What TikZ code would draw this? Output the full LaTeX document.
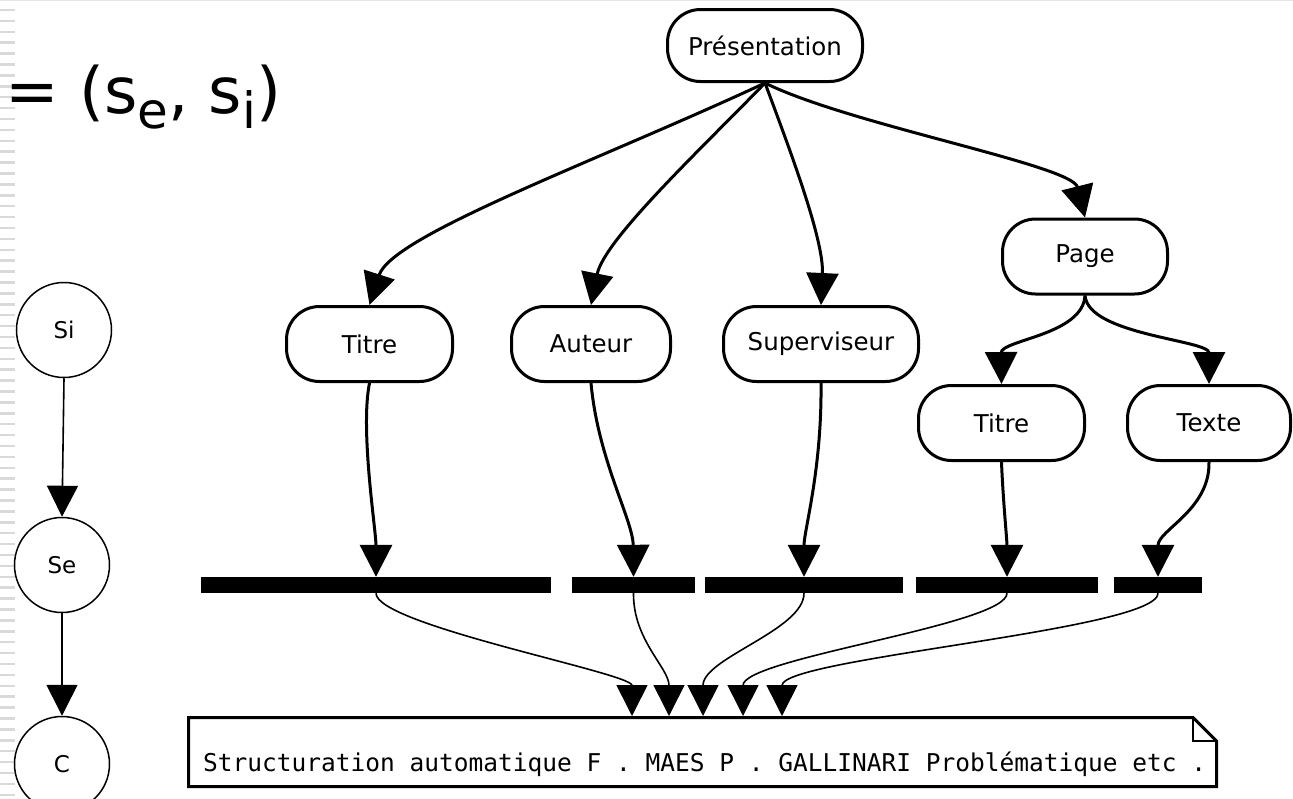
\documentclass[tikz,border=0pt]{standalone}
\usepackage{fontspec}
\setmainfont{DejaVu Sans}
\setmonofont{DejaVu Sans Mono}
\usetikzlibrary{arrows.meta,shapes.geometric}

\begin{document}
\begin{tikzpicture}[x=1pt,y=-1pt,
  elem/.style={draw, line width=3pt, rounded corners=33pt, minimum height=75pt,
               inner sep=0pt, font=\fontsize{24.5}{29}\selectfont},
  tree/.style={line width=3pt, -{Triangle[length=32pt,width=32pt]}},
  flow/.style={line width=1.6pt, -{Triangle[length=31pt,width=31pt]}},
  seg/.style={fill=black, draw=none, inner sep=0pt, minimum height=16pt},
  state/.style={draw, circle, line width=1.5pt, minimum size=95pt,
                inner sep=0pt, font=\fontsize{23}{27}\selectfont},
  stripe/.style={draw=black!15, line width=2.5pt},
]
\useasboundingbox (0,0) rectangle (1293,798);

% slide frame decoration
\draw[draw=black!10, line width=1pt] (0,0.5) -- (1293,0.5);
\foreach \k in {0,...,72} \draw[stripe] (0,{10+10.9*\k}) -- (15,{10+10.9*\k});

% formula
\node[anchor=base west, inner sep=0pt, font=\fontsize{64}{70}\selectfont] (eq) at (5,113)
  {= (s\raisebox{-15pt}{\fontsize{50}{54}\selectfont e}, s\raisebox{-15pt}{\fontsize{50}{54}\selectfont i})};

% state chain
\node[state] (si) at (64,330) {Si};
\node[state] (se) at (62,565) {Se};
\node[state] (c)  at (62,764) {C};
\draw[flow] (si.south) -- (se.north);
\draw[flow] (se.south) -- (c.north);

% document tree
\node[elem, minimum width=195pt, minimum height=72pt] (pres) at (765,45.5) {Présentation};
\node[elem, minimum width=165pt] (page)   at (1085,256.5) {Page};
\node[elem, minimum width=166pt] (titreL) at (369.5,344) {Titre};
\node[elem, minimum width=159pt] (auteur) at (591,344) {Auteur};
\node[elem, minimum width=195pt] (sup)    at (821,344) {Superviseur};
\node[elem, minimum width=166pt] (titreR) at (1001.5,423) {Titre};
\node[elem, minimum width=163pt] (texte)  at (1209,423) {Texte};

\draw[tree] (pres.south) .. controls (600,160) and (392,235) .. (titreL.north);
\draw[tree] (pres.south) .. controls (700,150) and (604,240) .. (auteur.north);
\draw[tree] (pres.south) .. controls (790,150) and (824,240) .. (sup.north);
\draw[tree] (pres.south) .. controls (850,125) and (1072,165) .. (page.north);
\draw[tree] (page.south) .. controls (1083,335) and (1001,340) .. (titreR.north);
\draw[tree] (page.south) .. controls (1088,335) and (1209,340) .. (texte.north);

% text segments
\node[seg, minimum width=350pt] (bar1) at (376,585) {};
\node[seg, minimum width=123pt] (bar2) at (633.5,585) {};
\node[seg, minimum width=198pt] (bar3) at (804,585) {};
\node[seg, minimum width=182pt] (bar4) at (1007,585) {};
\node[seg, minimum width=88pt]  (bar5) at (1158,585) {};

\draw[tree] (titreL.south) .. controls (360,430) and (376,530) .. (bar1.north);
\draw[tree] (auteur.south) .. controls (598,460) and (633,520) .. (bar2.north);
\draw[tree] (sup.south)    .. controls (822,470) and (804,530) .. (bar3.north);
\draw[tree] (titreR.south) .. controls (1003,500) and (1007,540) .. (bar4.north);
\draw[tree] (texte.south)  .. controls (1210,510) and (1158,530) .. (bar5.north);

% document text
\draw[line width=3pt, line join=miter, fill=white]
  (188.5,717.5) -- (1193,717.5) -- (1216.5,741) -- (1216.5,786.5) -- (188.5,786.5) -- cycle;
\draw[line width=1.5pt] (1193,717.5) -- (1193,741) -- (1216.5,741);
\node[anchor=base west, inner sep=0pt, font=\ttfamily\fontsize{24.5}{29}\selectfont] (doc) at (203,771)
  {Structuration automatique F . MAES P . GALLINARI Problématique etc .};

\coordinate (n1) at (632,716);
\coordinate (n2) at (669,716);
\coordinate (n3) at (703,716);
\coordinate (n4) at (743,716);
\coordinate (n5) at (782,716);

\draw[flow] (bar1.south) .. controls (376,625) and (632,673) .. (n1);
\draw[flow] (bar2.south) .. controls (633,640) and (669,668) .. (n2);
\draw[flow] (bar3.south) .. controls (804,630) and (703,658) .. (n3);
\draw[flow] (bar4.south) .. controls (1007,625) and (743,658) .. (n4);
\draw[flow] (bar5.south) .. controls (1158,630) and (782,658) .. (n5);
\end{tikzpicture}
\end{document}
